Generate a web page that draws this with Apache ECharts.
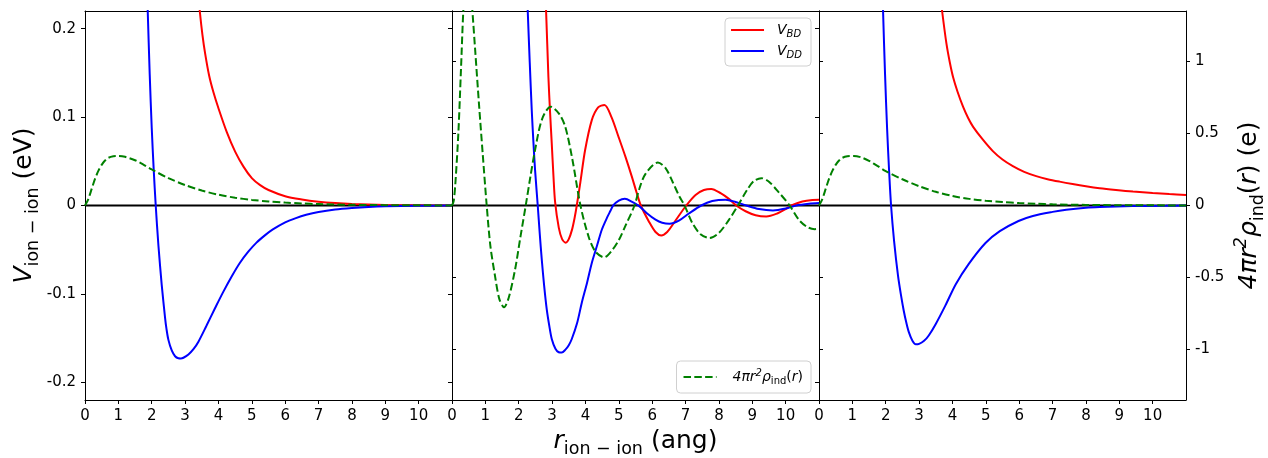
<!DOCTYPE html>
<html>
<head>
<meta charset="utf-8">
<script src="https://cdn.jsdelivr.net/npm/echarts@6/dist/echarts.min.js"></script>
<style>html,body{margin:0;padding:0;background:#fff}#c{width:1268px;height:458px}</style>
</head>
<body>
<div id="c"></div>
<script>
const FONT = 'DejaVu Sans';
const xTicks = [0,1,2,3,4,5,6,7,8,9,10];
const vTicks = [-0.2,-0.1,0,0.1,0.2];
const rhoTicks = [-1,-0.5,0,0.5,1];
const zeroLine = [[0,0],[11,0]];

// Panel 1
const vbd1 = [[3.3,0.275],[3.44,0.22],[3.52,0.193],[3.6,0.172],[3.72,0.147],[3.85,0.128],[4.0,0.11],[4.25,0.083],[4.5,0.061],[4.75,0.044],[5.0,0.031],[5.25,0.023],[5.5,0.0175],[6.0,0.0105],[6.5,0.0068],[7.0,0.0043],[7.5,0.0027],[8.0,0.0017],[9.0,0.0006],[10.0,0.0002],[11.0,0]];
const vdd1 = [[1.8,0.32],[1.88,0.22],[1.94,0.148],[2.0,0.088],[2.06,0.04],[2.12,0],[2.2,-0.045],[2.3,-0.09],[2.4,-0.127],[2.44,-0.139],[2.5,-0.152],[2.6,-0.164],[2.7,-0.1705],[2.8,-0.1728],[2.87,-0.173],[2.95,-0.1722],[3.1,-0.1685],[3.25,-0.1625],[3.4,-0.154],[3.64,-0.136],[3.9,-0.116],[4.14,-0.098],[4.4,-0.08],[4.64,-0.065],[4.9,-0.052],[5.14,-0.042],[5.4,-0.0335],[5.63,-0.027],[6.0,-0.019],[6.3,-0.0145],[6.63,-0.0105],[7.0,-0.0073],[7.5,-0.0045],[8.0,-0.0028],[8.5,-0.0016],[9.0,-0.0009],[10.0,-0.0003],[11.0,0]];
const rho1 = [[0,0],[0.1,0.045],[0.2,0.115],[0.3,0.185],[0.4,0.24],[0.5,0.282],[0.6,0.312],[0.7,0.331],[0.85,0.342],[1.0,0.344],[1.2,0.338],[1.5,0.314],[1.75,0.284],[2.0,0.25],[2.5,0.19],[3.0,0.142],[3.5,0.104],[4.0,0.075],[4.5,0.054],[5.0,0.039],[5.5,0.028],[6.0,0.02],[6.5,0.014],[7.0,0.01],[8.0,0.005],[9.0,0.0025],[10.0,0.0012],[11.0,0.0005]];

// Panel 2
const vbd2 = [[2.75,0.28],[2.82,0.22],[2.89,0.145],[2.94,0.105],[2.99,0.07],[3.04,0.034],[3.09,0.004],[3.2,-0.025],[3.3,-0.038],[3.41,-0.042],[3.5,-0.038],[3.6,-0.027],[3.67,-0.015],[3.74,0],[3.85,0.027],[3.99,0.0628],[4.19,0.0966],[4.38,0.111],[4.57,0.1138],[4.78,0.1],[4.99,0.0778],[5.2,0.055],[5.39,0.0327],[5.53,0.015],[5.66,0],[5.9,-0.018],[6.1,-0.03],[6.27,-0.0338],[6.45,-0.03],[6.7,-0.017],[7.02,0],[7.3,0.012],[7.55,0.0175],[7.77,0.0188],[8.05,0.014],[8.3,0.0075],[8.52,0],[8.8,-0.0065],[9.1,-0.011],[9.42,-0.0124],[9.75,-0.009],[10.0,-0.004],[10.17,0],[10.5,0.0045],[10.8,0.0062],[11.0,0.0064]];
const vdd2 = [[2.2,0.29],[2.27,0.22],[2.33,0.162],[2.39,0.108],[2.44,0.072],[2.49,0.04],[2.57,0],[2.63,-0.032],[2.69,-0.061],[2.76,-0.09],[2.84,-0.1175],[2.92,-0.137],[2.99,-0.151],[3.1,-0.162],[3.2,-0.166],[3.29,-0.1664],[3.4,-0.163],[3.5,-0.158],[3.59,-0.151],[3.75,-0.133],[3.89,-0.11],[4.05,-0.087],[4.19,-0.065],[4.35,-0.045],[4.49,-0.0274],[4.65,-0.0135],[4.75,-0.006],[4.83,0],[5.0,0.0055],[5.18,0.0075],[5.4,0.004],[5.62,-0.001],[5.85,-0.009],[6.1,-0.016],[6.3,-0.0195],[6.52,-0.0206],[6.8,-0.017],[7.1,-0.009],[7.47,0],[7.8,0.005],[8.2,0.0066],[8.5,0.004],[8.82,0],[9.2,-0.004],[9.62,-0.0056],[10.0,-0.0035],[10.32,0],[10.7,0.002],[11.0,0.0027]];
const rho2 = [[0,0],[0.05,0.03],[0.1,0.15],[0.19,0.5],[0.27,0.95],[0.34,1.355],[0.41,1.57],[0.48,1.63],[0.55,1.53],[0.61,1.355],[0.7,1.06],[0.81,0.7],[0.92,0.36],[1.04,0],[1.15,-0.28],[1.29,-0.49],[1.42,-0.65],[1.56,-0.706],[1.7,-0.64],[1.89,-0.445],[2.05,-0.22],[2.21,0],[2.35,0.2],[2.49,0.386],[2.7,0.6],[2.96,0.686],[3.2,0.64],[3.39,0.55],[3.6,0.33],[3.85,0],[4.1,-0.22],[4.3,-0.32],[4.56,-0.36],[4.8,-0.31],[5.0,-0.24],[5.2,-0.14],[5.47,0],[5.62,0.12],[5.8,0.22],[6.17,0.298],[6.4,0.26],[6.62,0.16],[6.8,0.07],[6.97,0],[7.2,-0.12],[7.45,-0.2],[7.72,-0.226],[8.0,-0.19],[8.3,-0.1],[8.57,0],[8.85,0.11],[9.05,0.17],[9.27,0.19],[9.5,0.165],[9.8,0.09],[10.12,0],[10.4,-0.1],[10.65,-0.15],[10.87,-0.164],[11.0,-0.16]];

// Panel 3
const vbd3 = [[3.55,0.265],[3.69,0.22],[3.82,0.183],[3.92,0.162],[4.02,0.145],[4.15,0.129],[4.32,0.1115],[4.47,0.099],[4.62,0.089],[4.9,0.075],[5.21,0.0615],[5.5,0.052],[5.81,0.0445],[6.15,0.038],[6.51,0.0332],[6.85,0.0298],[7.21,0.027],[7.6,0.0243],[8.0,0.0218],[8.41,0.0196],[8.9,0.0176],[9.41,0.0158],[10.0,0.0142],[10.5,0.013],[11.0,0.0119]];
const vdd3 = [[1.85,0.32],[1.92,0.22],[1.98,0.148],[2.04,0.088],[2.1,0.04],[2.16,0],[2.25,-0.04],[2.37,-0.08],[2.46,-0.102],[2.54,-0.119],[2.62,-0.133],[2.69,-0.143],[2.8,-0.153],[2.9,-0.157],[3.0,-0.1565],[3.15,-0.153],[3.29,-0.147],[3.5,-0.134],[3.79,-0.113],[4.1,-0.089],[4.49,-0.066],[4.99,-0.0424],[5.42,-0.029],[5.98,-0.0175],[6.41,-0.0118],[7.0,-0.0072],[7.41,-0.0048],[8.0,-0.0026],[8.41,-0.0018],[9.4,-0.0007],[10.4,-0.0003],[11.0,0]];
const rho3 = [[0,0],[0.1,0.045],[0.2,0.115],[0.3,0.185],[0.4,0.24],[0.5,0.282],[0.6,0.312],[0.7,0.331],[0.85,0.342],[1.04,0.344],[1.25,0.335],[1.5,0.31],[1.75,0.275],[2.0,0.238],[2.5,0.182],[3.0,0.134],[3.5,0.095],[4.0,0.066],[4.5,0.046],[5.0,0.033],[5.5,0.024],[6.0,0.017],[6.5,0.012],[7.0,0.008],[8.0,0.004],[9.0,0.002],[10.0,0.001],[11.0,0.0005]];

const panels = [
  {bd: vbd1, dd: vdd1, rho: rho1},
  {bd: vbd2, dd: vdd2, rho: rho2},
  {bd: vbd3, dd: vdd3, rho: rho3}
];

const axisLineStyle = {color: '#000', width: 1};
const nameRich = {
  m: {fontSize: 25, fontFamily: FONT, color: '#000', lineHeight: 35},
  i: {fontSize: 25, fontFamily: FONT, fontStyle: 'italic', color: '#000', lineHeight: 35},
  s: {fontSize: 17.5, fontFamily: FONT, color: '#000', verticalAlign: 'bottom'},
  p: {fontSize: 17.5, fontFamily: FONT, fontStyle: 'italic', color: '#000', verticalAlign: 'top'}
};

const grids = [0,1,2].map(i => ({left: 85 + 367*i, top: 11, width: 367, height: 389, containLabel: false, outerBoundsMode: 'none'}));

const xAxes = [];
[0,1,2].forEach(i => {
  xAxes.push({
    type: 'value', gridIndex: i, min: 0, max: 11, interval: 1, position: 'bottom',
    axisLine: {show: true, onZero: false, lineStyle: axisLineStyle},
    axisTick: {show: true, length: 4, customValues: xTicks, lineStyle: axisLineStyle},
    axisLabel: {show: true, customValues: xTicks, fontSize: 15, fontFamily: FONT, color: '#000', margin: 9},
    splitLine: {show: false},
    name: i === 1 ? '{i|r}{s|ion − ion}{m| (ang)}' : '',
    nameLocation: 'middle', nameGap: 23,
    nameTextStyle: {rich: nameRich}
  });
});
[0,1,2].forEach(i => {
  xAxes.push({
    type: 'value', gridIndex: i, min: 0, max: 11, position: 'top',
    axisLine: {show: true, onZero: false, lineStyle: axisLineStyle},
    axisTick: {show: false}, axisLabel: {show: false}, splitLine: {show: false}
  });
});

const yAxes = [];
[0,1,2].forEach(i => {
  yAxes.push({
    type: 'value', gridIndex: i, position: 'left', min: -0.22, max: 0.22,
    axisLine: {show: true, onZero: false, lineStyle: axisLineStyle},
    axisTick: {show: true, length: 4, customValues: vTicks, lineStyle: axisLineStyle},
    axisLabel: {show: i === 0, customValues: vTicks, fontSize: 15, fontFamily: FONT, color: '#000', margin: 9},
    splitLine: {show: false},
    name: i === 0 ? '{i|V}{s|ion − ion}{m| (eV)}' : '',
    nameLocation: 'middle', nameRotate: 90, nameGap: 43,
    nameTextStyle: {rich: nameRich}
  });
  yAxes.push({
    type: 'value', gridIndex: i, position: 'right', min: -1.35, max: 1.35,
    axisLine: {show: true, onZero: false, lineStyle: axisLineStyle},
    axisTick: {show: true, length: 4, customValues: rhoTicks, lineStyle: axisLineStyle},
    axisLabel: {show: i === 2, customValues: rhoTicks, fontSize: 15, fontFamily: FONT, color: '#000', margin: 9},
    splitLine: {show: false},
    name: i === 2 ? '{i|4πr}{p|2}{i|ρ}{s|ind}{m|(}{i|r}{m|) (e)}' : '',
    nameLocation: 'middle', nameRotate: 90, nameGap: 46,
    nameTextStyle: {rich: nameRich}
  });
});

const series = [];
panels.forEach((p, i) => {
  const base = {type: 'line', xAxisIndex: i, showSymbol: false, symbol: 'none', smooth: 0.3, clip: true, silent: true};
  series.push(Object.assign({}, base, {name: 'zero', yAxisIndex: 2*i, data: zeroLine, smooth: false, lineStyle: {color: '#000', width: 2}, itemStyle: {color: '#000'}, z: 1}));
  series.push(Object.assign({}, base, {name: 'V_BD', yAxisIndex: 2*i, data: p.bd, lineStyle: {color: '#ff0000', width: 2}, itemStyle: {color: '#ff0000'}, z: 2}));
  series.push(Object.assign({}, base, {name: 'V_DD', yAxisIndex: 2*i, data: p.dd, lineStyle: {color: '#0000ff', width: 2}, itemStyle: {color: '#0000ff'}, z: 3}));
  series.push(Object.assign({}, base, {name: 'rho', yAxisIndex: 2*i + 1, data: p.rho, lineStyle: {color: '#008000', width: 2, type: [7.5, 3.3]}, itemStyle: {color: '#008000'}, z: 4}));
});

const legRich = {
  a: {fontSize: 14, fontFamily: FONT, fontStyle: 'italic', color: '#000', lineHeight: 18, padding: [0,0,0,8]},
  a2: {fontSize: 14, fontFamily: FONT, fontStyle: 'italic', color: '#000', lineHeight: 18, padding: [0,0,0,11]},
  i: {fontSize: 14, fontFamily: FONT, fontStyle: 'italic', color: '#000', lineHeight: 18},
  m: {fontSize: 14, fontFamily: FONT, color: '#000', lineHeight: 18},
  b: {fontSize: 10, fontFamily: FONT, fontStyle: 'italic', color: '#000', verticalAlign: 'bottom'},
  s: {fontSize: 10, fontFamily: FONT, color: '#000', verticalAlign: 'bottom'},
  p: {fontSize: 10, fontFamily: FONT, fontStyle: 'italic', color: '#000', verticalAlign: 'top'}
};
const legendBase = {
  orient: 'vertical', itemWidth: 33, itemHeight: 14, itemGap: 5,
  backgroundColor: '#fff', borderColor: '#d0d0d0', borderWidth: 1, borderRadius: 4,
  itemStyle: {opacity: 0, borderWidth: 0},
  textStyle: {rich: legRich},
  selectedMode: false
};

const option = {
  animation: false,
  backgroundColor: '#fff',
  textStyle: {fontFamily: FONT},
  grid: grids,
  xAxis: xAxes,
  yAxis: yAxes,
  legend: [
    Object.assign({}, legendBase, {
      data: ['V_BD', 'V_DD'], right: 457, top: 18, padding: [5, 9, 6, 5],
      formatter: n => n === 'V_BD' ? '{a|V}{b|BD}' : '{a|V}{b|DD}'
    }),
    Object.assign({}, legendBase, {
      data: ['rho'], right: 457, bottom: 65, padding: [7, 8, 7, 6],
      formatter: () => '{a2|4πr}{p|2}{i|ρ}{s|ind}{m|(}{i|r}{m|)}'
    })
  ],
  series: series
};

const chart = echarts.init(document.getElementById('c'), null, {renderer: 'canvas'});
chart.setOption(option);
</script>
</body>
</html>
